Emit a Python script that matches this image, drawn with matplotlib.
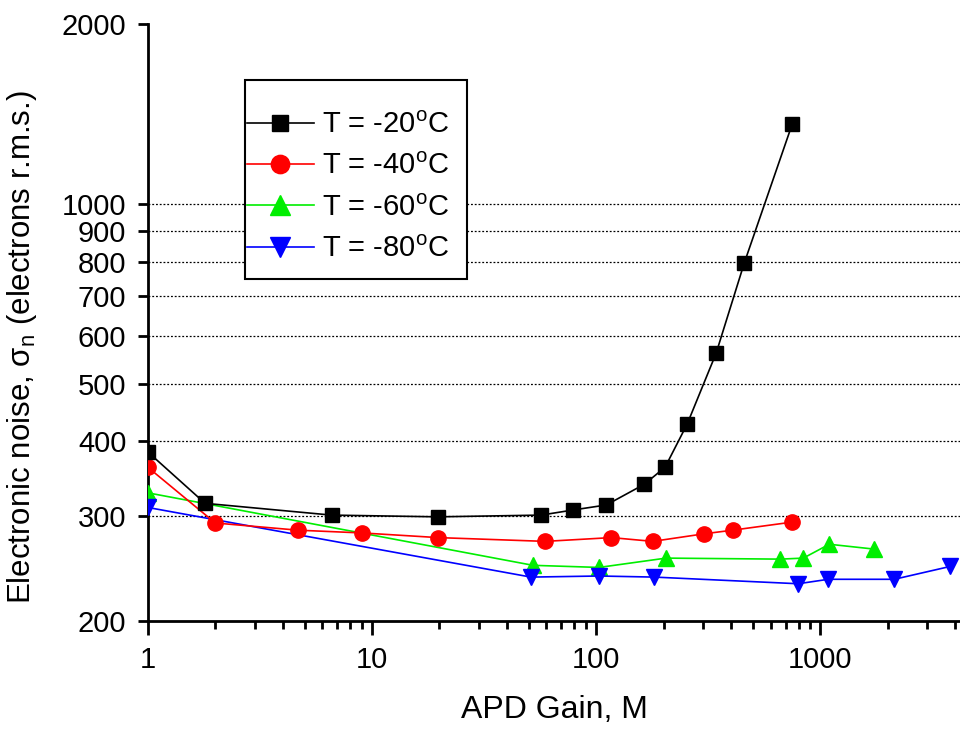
import numpy as np
import matplotlib
matplotlib.use('Agg')
import matplotlib.pyplot as plt
from matplotlib.patches import Rectangle
from matplotlib.ticker import FixedLocator, NullFormatter, LogLocator

plt.rcParams['font.family'] = ['Liberation Sans', 'DejaVu Sans']
plt.rcParams['mathtext.fontset'] = 'custom'
plt.rcParams['mathtext.rm'] = 'Liberation Sans'

#data
gain_20 = [1, 1.8, 6.6, 19.7, 56.8, 78.9, 111, 164, 203, 255, 343, 458, 750]
noise_20 = [384, 315, 301, 299, 301, 307, 313, 339, 362, 428, 562, 796, 1361]

gain_40 = [1, 2.0, 4.67, 9.03, 19.7, 59.3, 117, 179, 302, 406, 750]
noise_40 = [362, 292, 284, 281, 276, 272, 276, 272, 280, 284, 293]

gain_60 = [1, 52.3, 103, 205, 663, 840, 1097, 1742]
noise_60 = [328, 248, 246, 255, 254, 255, 269, 264]

gain_80 = [1, 51.2, 103, 182, 797, 1086, 2138, 3808]
noise_80 = [310, 237, 238, 237, 231, 235, 235, 247]

labels = ['T = -20$^\\mathregular{o}$C', 'T = -40$^\\mathregular{o}$C',
          'T = -60$^\\mathregular{o}$C', 'T = -80$^\\mathregular{o}$C']
yticks = [200, 300, 400, 500, 600, 700, 800, 900, 1000, 2000]
grid_levels = [300, 400, 500, 600, 700, 800, 900, 1000]

fig = plt.figure(figsize=(9.6, 7.29), dpi=100)
ax = fig.add_axes([0.154, 0.148, 0.846, 0.819])

#dotted grid lines
for g in grid_levels:
    ax.axhline(g, color='black', linestyle=(0, (1.5, 1.5)), linewidth=0.9, zorder=1)

ax.plot(gain_20, noise_20, color='black', lw=1.2, marker='s', ms=10, label=labels[0], zorder=5)
ax.plot(gain_40, noise_40, color='red', lw=1.2, marker='o', ms=11, label=labels[1], zorder=4)
ax.plot(gain_60, noise_60, color='#00ee00', lw=1.2, marker='^', ms=12, label=labels[2], zorder=3)
ax.plot(gain_80, noise_80, color='blue', lw=1.2, marker='v', ms=12, label=labels[3], zorder=3)

ax.set_xscale('log')
ax.set_yscale('log')
ax.set_xlim(1, 4200)
ax.set_ylim(200, 2000)

ax.yaxis.set_major_locator(FixedLocator(yticks))
ax.yaxis.set_minor_locator(FixedLocator([]))
ax.set_yticklabels([str(t) for t in yticks])
ax.yaxis.set_minor_formatter(NullFormatter())

ax.xaxis.set_major_locator(FixedLocator([1, 10, 100, 1000]))
ax.set_xticklabels(['1', '10', '100', '1000'])
ax.xaxis.set_minor_locator(LogLocator(base=10, subs=np.arange(2, 10)))
ax.xaxis.set_minor_formatter(NullFormatter())

ax.spines['top'].set_visible(False)
ax.spines['right'].set_visible(False)
ax.spines['left'].set_linewidth(2)
ax.spines['bottom'].set_linewidth(2)
ax.tick_params(axis='both', which='major', direction='out', width=2, labelsize=21)
ax.tick_params(axis='x', which='major', length=10, pad=8)
ax.tick_params(axis='y', which='major', length=7, pad=8.5)
ax.tick_params(axis='x', which='minor', direction='out', width=2, length=6)

ax.set_xlabel('APD Gain, M', fontsize=23)
ax.xaxis.set_label_coords(0.501, -0.124)
ax.set_ylabel('Electronic noise, σ$_\\mathregular{n}$ (electrons r.m.s.)', fontsize=22.5)
ax.yaxis.set_label_coords(-0.134, 0.459)

#legend box drawn separately, legend entries without frame
ax.add_patch(Rectangle((0.1195, 0.573), 0.2735, 0.333, transform=ax.transAxes,
                       facecolor='white', edgecolor='black', lw=1.5, zorder=6))
leg = ax.legend(loc='center left', bbox_to_anchor=(0.122, 0.727), fontsize=21,
                frameon=False, handlelength=2.3, handletextpad=0.27,
                labelspacing=0.45, borderpad=0.0, borderaxespad=0.0,
                markerscale=1.2)
leg.set_zorder(7)

plt.savefig('out.png', dpi=100)
